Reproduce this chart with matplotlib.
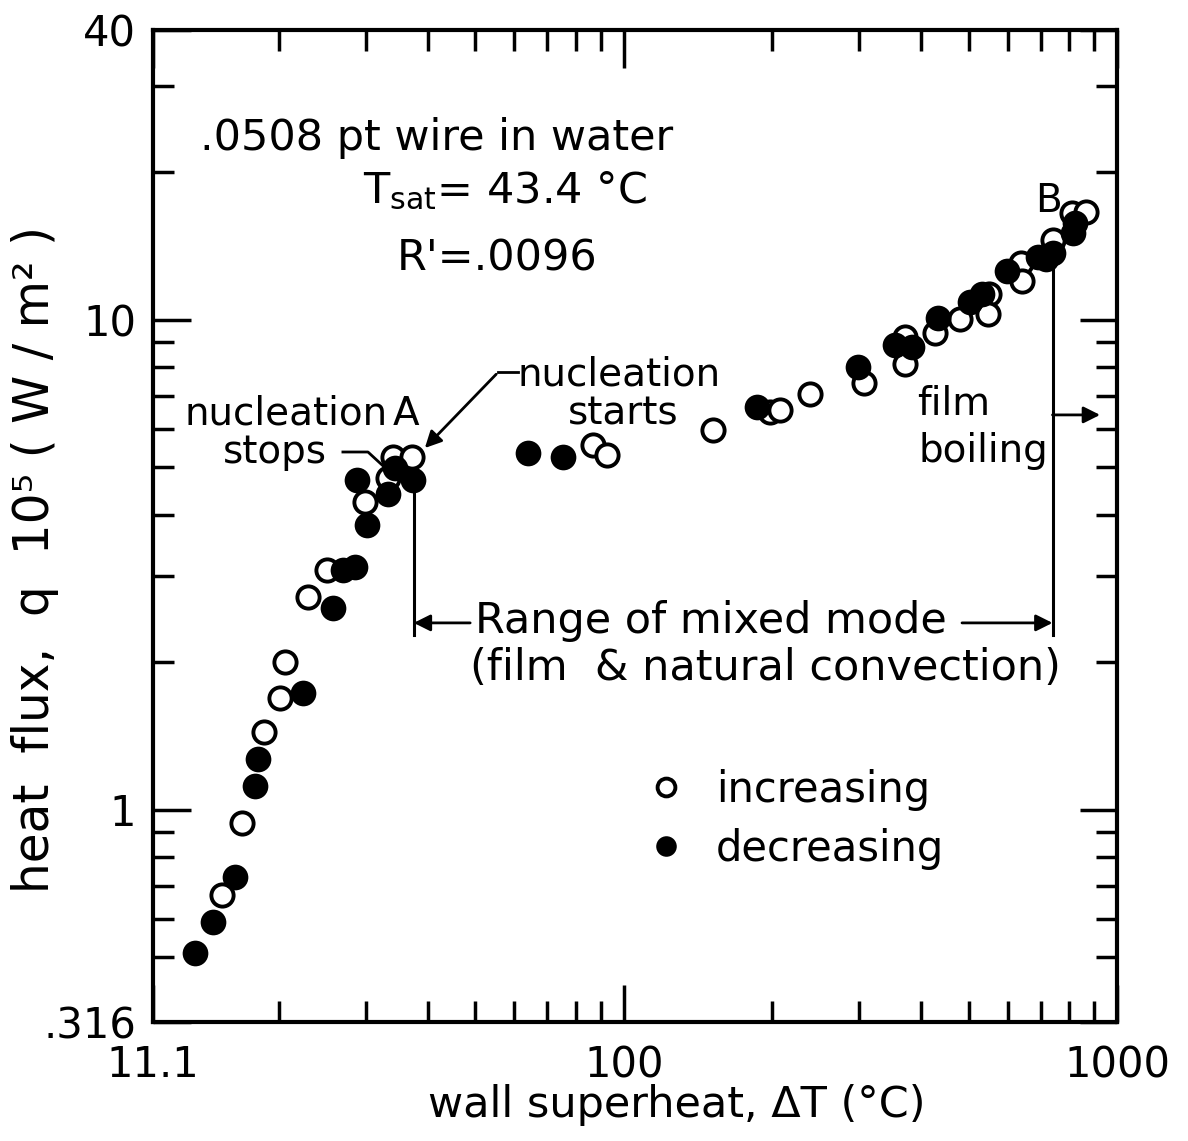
import matplotlib
matplotlib.use("Agg")
import matplotlib.pyplot as plt
from matplotlib.ticker import FixedLocator, NullFormatter

plt.rcParams['font.family'] = ['DejaVu Sans']

# wall superheat (C) and heat flux (1e5 W/m2), increasing power
inc_dt = [20.6, 20.1, 18.6, 16.8, 15.3, 25.0, 22.9, 29.9, 34.0, 37.2, 33.3,
          86.6, 92.5, 151.6, 197.8, 207.4, 238.5, 306.9, 371.7, 371.7, 427.5,
          480.5, 550.1, 547.5, 638.8, 641.8, 741.9, 810.4, 865.3]
inc_q = [2.00, 1.69, 1.44, 0.94, 0.67, 3.09, 2.72, 4.25, 5.25, 5.25, 4.76,
         5.56, 5.30, 5.97, 6.49, 6.55, 7.06, 7.44, 9.23, 8.13, 9.41,
         10.05, 11.30, 10.28, 13.07, 12.01, 14.57, 16.53, 16.61]

# decreasing power
dec_dt = [22.4, 18.1, 17.9, 16.3, 14.7, 13.5, 27.0, 28.5, 25.7, 28.8, 30.2,
          33.3, 34.4, 37.4, 63.9, 75.3, 186.2, 298.4, 354.7, 384.0, 433.6,
          503.5, 532.4, 598.4, 691.7, 717.9, 741.9, 814.2, 821.8]
dec_q = [1.73, 1.27, 1.12, 0.73, 0.59, 0.51, 3.09, 3.13, 2.58, 4.72, 3.82,
         4.42, 4.99, 4.72, 5.35, 5.25, 6.65, 8.02, 8.89, 8.81, 10.09,
         10.88, 11.30, 12.59, 13.45, 13.32, 13.70, 15.05, 15.78]

x_lo, x_hi = 11.1, 1000
y_lo, y_hi = 0.369, 39.07

fig = plt.figure(figsize=(11.88, 11.41), dpi=100)
ax = fig.add_axes([153 / 1188, 119 / 1141, 964 / 1188, 992 / 1141])
ax.set_xscale('log')
ax.set_yscale('log')
ax.set_xlim(x_lo, x_hi)
ax.set_ylim(y_lo, y_hi)

ax.plot(inc_dt, inc_q, 'o', ms=16, mfc='white', mec='black', mew=2.8,
        label='increasing', zorder=3)
ax.plot(dec_dt, dec_q, 'o', ms=18.5, mfc='black', mec='black', mew=0,
        label='decreasing', zorder=4)

# axes / ticks
for s in ax.spines.values():
    s.set_linewidth(3)
ax.set_xticks([x_lo, 100, 1000])
ax.set_xticklabels(['11.1', '100', '1000'])
ax.set_yticks([y_lo, 1, 10, y_hi])
ax.set_yticklabels(['.316', '1', '10', '40'])
ax.xaxis.set_minor_locator(FixedLocator([20, 30, 40, 50, 60, 70, 80, 90,
                                         200, 300, 400, 500, 600, 700, 800, 900]))
ax.yaxis.set_minor_locator(FixedLocator([0.5, 0.6, 0.7, 0.8, 0.9, 2, 3, 4, 5,
                                         6, 7, 8, 9, 20, 30]))
ax.xaxis.set_minor_formatter(NullFormatter())
ax.yaxis.set_minor_formatter(NullFormatter())
ax.tick_params(which='both', direction='in', top=True, right=True,
               width=2.5, labelsize=30)
ax.tick_params(which='major', length=27)
ax.tick_params(which='minor', length=15)
ax.tick_params(axis='x', which='major', pad=16)
ax.tick_params(axis='y', which='major', pad=12)

ax.set_xlabel('wall superheat, ΔT (°C)', fontsize=31)
ax.xaxis.set_label_coords(0.5436, -0.063)
ax.set_ylabel('heat  flux,  q  10⁵ ( W / m² )', fontsize=35)
ax.yaxis.set_label_coords(-0.097, 0.466)

# annotations
fs = 28
fb = 31
T = ax.transAxes
ax.text(0.049, 0.879, '.0508 pt wire in water', fontsize=fb, transform=T)
ax.text(0.218, 0.826, r'T$_{\mathregular{sat}}$= 43.4 °C', fontsize=fb, transform=T)
ax.text(0.253, 0.758, "R'=.0096", fontsize=fb, transform=T)
ax.text(0.033, 0.602, 'nucleation', fontsize=fs, transform=T)
ax.text(0.072, 0.5635, 'stops', fontsize=fs, transform=T)
ax.text(0.249, 0.602, 'A', fontsize=fs, transform=T)
ax.text(0.378, 0.642, 'nucleation', fontsize=fs, transform=T)
ax.text(0.4305, 0.602, 'starts', fontsize=fs, transform=T)
ax.text(0.915, 0.8165, 'B', fontsize=fs, transform=T)
ax.text(0.7925, 0.612, 'film', fontsize=fs, transform=T)
ax.text(0.7936, 0.5645, 'boiling', fontsize=fs, transform=T)
ax.text(0.334, 0.392, 'Range of mixed mode', fontsize=fb, transform=T)
ax.text(0.329, 0.345, '(film  & natural convection)', fontsize=fb, transform=T)

# connector for "stops" and arrow for "starts"
ax.plot([0.197, 0.223, 0.241], [0.5746, 0.5746, 0.5585], color='black', lw=2,
        transform=T, zorder=5)
ax.annotate('', xy=(0.280, 0.5766), xytext=(0.358, 0.655), xycoords=T,
            arrowprops=dict(arrowstyle='-|>', color='black', lw=2,
                            mutation_scale=25))
ax.plot([0.358, 0.3786], [0.655, 0.655], color='black', lw=2, transform=T)

# range of mixed mode
a_dt, b_dt = 37.5, 740
ax.plot([a_dt, a_dt], [4.7, 2.275], color='black', lw=2.2, zorder=2)
ax.plot([b_dt, b_dt], [13.7, 2.275], color='black', lw=2.2, zorder=2)
ax.annotate('', xy=(a_dt, 2.408), xytext=(48.8, 2.408),
            arrowprops=dict(arrowstyle='-|>', color='black', lw=2,
                            mutation_scale=25, shrinkA=0, shrinkB=0))
ax.annotate('', xy=(b_dt, 2.408), xytext=(485, 2.408),
            arrowprops=dict(arrowstyle='-|>', color='black', lw=2,
                            mutation_scale=25, shrinkA=0, shrinkB=0))
ax.annotate('', xy=(924, 6.40), xytext=(b_dt, 6.40),
            arrowprops=dict(arrowstyle='-|>', color='black', lw=2,
                            mutation_scale=25, shrinkA=0, shrinkB=0))

ax.legend(loc='upper left', bbox_to_anchor=(0.493, 0.272), frameon=False,
          fontsize=30, markerscale=0.8, handlelength=1.0, handletextpad=0.7,
          labelspacing=0.4, borderaxespad=0)

fig.savefig('out.png', dpi=100)
